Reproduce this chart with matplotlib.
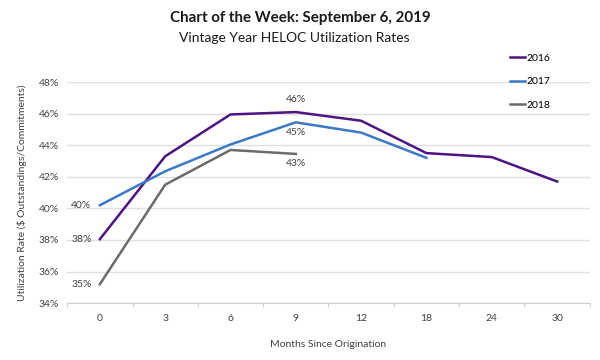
import numpy as np
import matplotlib.pyplot as plt

plt.rcParams['font.family'] = ['Lato', 'DejaVu Sans']

# podaci procitani sa slike
meseci = ['0', '3', '6', '9', '12', '18', '24', '30']
god_2016 = [38.05, 43.3, 45.95, 46.1, 45.55, 43.5, 43.25, 41.7]
god_2017 = [40.2, 42.35, 44.05, 45.45, 44.8, 43.2]
god_2018 = [35.2, 41.5, 43.7, 43.45]
oznake_y = ['34%', '36%', '38%', '40%', '42%', '44%', '46%', '48%']

boje = {'2016': '#4e1385', '2017': '#3c78c8', '2018': '#6b6b6b'}

fig = plt.figure(figsize=(6, 3.6), dpi=100)
ax = fig.add_axes([0.112, 0.158, 0.871, 0.614])

x = np.arange(len(meseci))
ax.plot(x[:len(god_2016)], god_2016, color=boje['2016'], lw=1.8, label='2016')
ax.plot(x[:len(god_2017)], god_2017, color=boje['2017'], lw=1.8, label='2017')
ax.plot(x[:len(god_2018)], god_2018, color=boje['2018'], lw=1.8, label='2018')

ax.set_xlim(-0.5, len(meseci) - 0.5)
ax.set_ylim(34, 48)
ax.set_yticks(np.arange(34, 49, 2))
ax.set_yticklabels(oznake_y, fontsize=7.5, color='#404040')
ax.set_xticks(x)
ax.set_xticklabels(meseci, fontsize=7.5, color='#404040')
ax.set_xticks(np.arange(-0.5, len(meseci)), minor=True)
ax.tick_params(axis='x', which='major', length=0, pad=8)
ax.tick_params(axis='x', which='minor', length=3, color='#d0d0d0', width=0.8)
ax.tick_params(axis='y', length=0, pad=6)

ax.grid(axis='y', color='#e0e0e0', lw=1)
ax.set_axisbelow(True)
for s in ['top', 'right', 'left']:
    ax.spines[s].set_visible(False)
ax.spines['bottom'].set_color('#d0d0d0')

# oznake vrednosti
ax.annotate('38%', (0, god_2016[0]), xytext=(-6, 0), textcoords='offset points',
            ha='right', va='center', fontsize=7.5, color='#404040')
ax.annotate('40%', (0, god_2017[0]), xytext=(-6, 0), textcoords='offset points',
            ha='right', va='center', fontsize=7.5, color='#404040')
ax.annotate('35%', (0, god_2018[0]), xytext=(-6, 0), textcoords='offset points',
            ha='right', va='center', fontsize=7.5, color='#404040')
ax.annotate('46%', (3, god_2016[3]), xytext=(0, 9), textcoords='offset points',
            ha='center', va='center', fontsize=7.5, color='#404040')
ax.annotate('45%', (3, god_2017[3]), xytext=(0, -7), textcoords='offset points',
            ha='center', va='center', fontsize=7.5, color='#404040')
ax.annotate('43%', (3, god_2018[3]), xytext=(0, -7), textcoords='offset points',
            ha='center', va='center', fontsize=7.5, color='#404040')

ax.set_xlabel('Months Since Origination', fontsize=7.5, color='#404040', labelpad=12)
ax.set_ylabel('Utilization Rate (\\$ Outstandings/Commitments)', fontsize=7.5,
              color='#404040', labelpad=8)

fig.text(0.5, 0.95, 'Chart of the Week: September 6, 2019', ha='center', va='center',
         fontsize=10.9, fontweight='bold', color='#1a1a1a')
fig.text(0.49, 0.895, 'Vintage Year HELOC Utilization Rates', ha='center', va='center',
         fontsize=10, color='#1a1a1a')

fig.legend(loc='upper left', bbox_to_anchor=(0.842, 0.865), frameon=False, fontsize=7.5,
           handlelength=1.4, handletextpad=0.1, labelspacing=1.35, borderpad=0)

fig.savefig('out.png', dpi=100)
